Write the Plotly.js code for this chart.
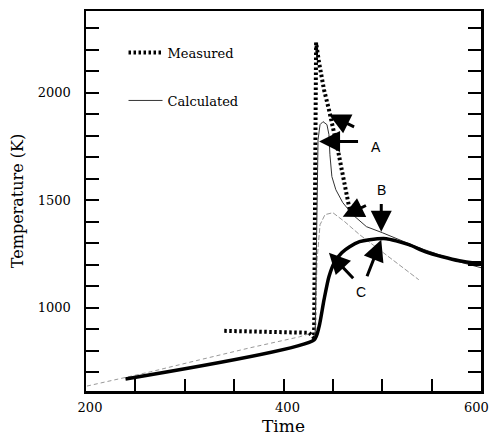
<!DOCTYPE html>
<html>
<head>
<meta charset="utf-8">
<script src="https://cdn.plot.ly/plotly-3.0.1.min.js"></script>
<style>html,body{margin:0;padding:0;background:#fff;}#chart{width:489px;height:441px;}</style>
</head>
<body>
<div id="chart"></div>
<script>
// Measured temperature history
const timeMeasured = [340, 426, 431, 433, 436, 441, 446, 451, 455, 459, 464, 467];
const tempMeasured = [892, 883, 859, 2234, 2141, 2015, 1922, 1829, 1736, 1642, 1535, 1456];

// Calculated curve C (thick black)
const timeCalcC = [240, 431, 436, 441, 446, 452, 459, 467, 477, 487, 504, 514, 527, 544, 561, 578, 591, 600];
const tempCalcC = [668, 850, 911, 1036, 1144, 1214, 1256, 1284, 1307, 1316, 1321, 1311, 1293, 1260, 1237, 1218, 1209, 1209];

// Calculated curve A (thin)
const timeCalcA = [432, 434, 435, 437, 440, 444, 446, 447, 449, 453, 460, 470, 484, 500, 517, 537, 558, 578, 600];
const tempCalcA = [859, 1503, 1782, 1852, 1866, 1852, 1806, 1712, 1610, 1549, 1489, 1433, 1377, 1349, 1316, 1279, 1246, 1213, 1186];

// Calculated curve B (thin dashed)
const timeCalcB = [432, 434, 437, 442, 450, 462, 477, 497, 517, 537];
const tempCalcB = [859, 1223, 1386, 1433, 1442, 1400, 1340, 1270, 1200, 1130];

// Calculated heating branch (thin, before ignition)
const timeCalcLow = [201, 265, 315, 366, 416, 429];
const tempCalcLow = [635, 701, 757, 813, 864, 883];

// Axis ticks (the last x label sits at the right edge and is placed separately)
const xTickVals = [200, 400];
const xEdgeLabel = 600;
const yTickVals = [1000, 1500, 2000];

// Callout labels and arrows (tail -> tip, data coordinates)
const calloutText = ['A', 'B', 'C'];
const calloutTime = [494, 499, 478];
const calloutTemp = [1750, 1546, 1073];
const arrowTailTime = [477, 473, 499, 485, 472, 484];
const arrowTailTemp = [1773, 1838, 1489, 1479, 1130, 1139];
const arrowTipTime  = [436, 446, 499, 460, 446, 499];
const arrowTipTemp  = [1773, 1899, 1353, 1423, 1256, 1316];

const traces = [
  {x: timeMeasured, y: tempMeasured, mode: 'lines', name: 'Measured', legendgroup: 'a', legendrank: 1,
   line: {color: '#000', width: 4, dash: '2.5px,2.5px'}, hoverinfo: 'skip'},
  {x: timeCalcLow, y: tempCalcLow, mode: 'lines', showlegend: false,
   line: {color: '#999', width: 1, dash: '4px,3px'}, hoverinfo: 'skip'},
  {x: timeCalcB, y: tempCalcB, mode: 'lines', showlegend: false,
   line: {color: '#999', width: 1, dash: '5px,2px'}, hoverinfo: 'skip'},
  {x: timeCalcA, y: tempCalcA, mode: 'lines', name: 'Calculated', legendgroup: 'b', legendrank: 2,
   line: {color: '#333', width: 1}, hoverinfo: 'skip'},
  {x: timeCalcC, y: tempCalcC, mode: 'lines', showlegend: false,
   line: {color: '#000', width: 3.5, shape: 'spline', smoothing: 0.6}, hoverinfo: 'skip'}
];

const serif = 'DejaVu Serif, serif';
const annotations = [];
for (let i = 0; i < arrowTailTime.length; i++) {
  annotations.push({
    x: arrowTipTime[i], y: arrowTipTemp[i], xref: 'x', yref: 'y',
    ax: arrowTailTime[i], ay: arrowTailTemp[i], axref: 'x', ayref: 'y',
    showarrow: true, arrowhead: 2, arrowsize: 1.4, arrowwidth: 3, arrowcolor: '#000', text: ''
  });
}
for (let i = 0; i < calloutText.length; i++) {
  annotations.push({
    x: calloutTime[i], y: calloutTemp[i], xref: 'x', yref: 'y', showarrow: false,
    text: calloutText[i], font: {family: 'Liberation Sans, Arial, sans-serif', size: 14, color: '#000'}
  });
}
annotations.push({
  x: xEdgeLabel, y: 0, xref: 'x', yref: 'paper', xanchor: 'center', yanchor: 'top',
  xshift: -5, yshift: -7, showarrow: false, text: String(xEdgeLabel),
  font: {family: serif, size: 13, color: '#000'}
});

const layout = {
  width: 489, height: 441,
  margin: {l: 86, r: 8, t: 11, b: 50},
  paper_bgcolor: '#fff', plot_bgcolor: '#fff',
  showlegend: true,
  legend: {x: 0.095, y: 0.93, xanchor: 'left', yanchor: 'top', bgcolor: 'rgba(0,0,0,0)',
           font: {family: serif, size: 13, color: '#000'}, traceorder: 'grouped',
           tracegroupgap: 28, itemwidth: 34},
  xaxis: {
    range: [200, 600], tickvals: xTickVals, ticktext: xTickVals.map(String),
    ticks: 'inside', ticklen: 12, tickwidth: 2, tickcolor: '#000',
    minor: {dtick: 50, tick0: 200, ticks: 'inside', ticklen: 12, tickwidth: 2, tickcolor: '#000'},
    showline: true, linecolor: '#000', linewidth: 2.5, mirror: true,
    showgrid: false, zeroline: false, ticklabelshift: 4, ticklabelstandoff: 3,
    tickfont: {family: serif, size: 13, color: '#000'},
    title: {text: 'Time', font: {family: serif, size: 17, color: '#000'}, standoff: 6}
  },
  yaxis: {
    range: [612, 2381], tickvals: yTickVals, ticktext: yTickVals.map(String),
    ticks: 'inside', ticklen: 13, tickwidth: 2, tickcolor: '#000',
    minor: {dtick: 100, tick0: 700, ticks: 'inside', ticklen: 13, tickwidth: 2, tickcolor: '#000'},
    showline: true, linecolor: '#000', linewidth: 2.5, mirror: 'ticks',
    showgrid: false, zeroline: false, ticklabelstandoff: 10,
    tickfont: {family: serif, size: 13, color: '#000'},
    title: {text: 'Temperature (K)', font: {family: serif, size: 16, color: '#000'}, standoff: 10}
  },
  annotations: annotations
};

Plotly.newPlot('chart', traces, layout, {displayModeBar: false, staticPlot: true});
</script>
</body>
</html>
